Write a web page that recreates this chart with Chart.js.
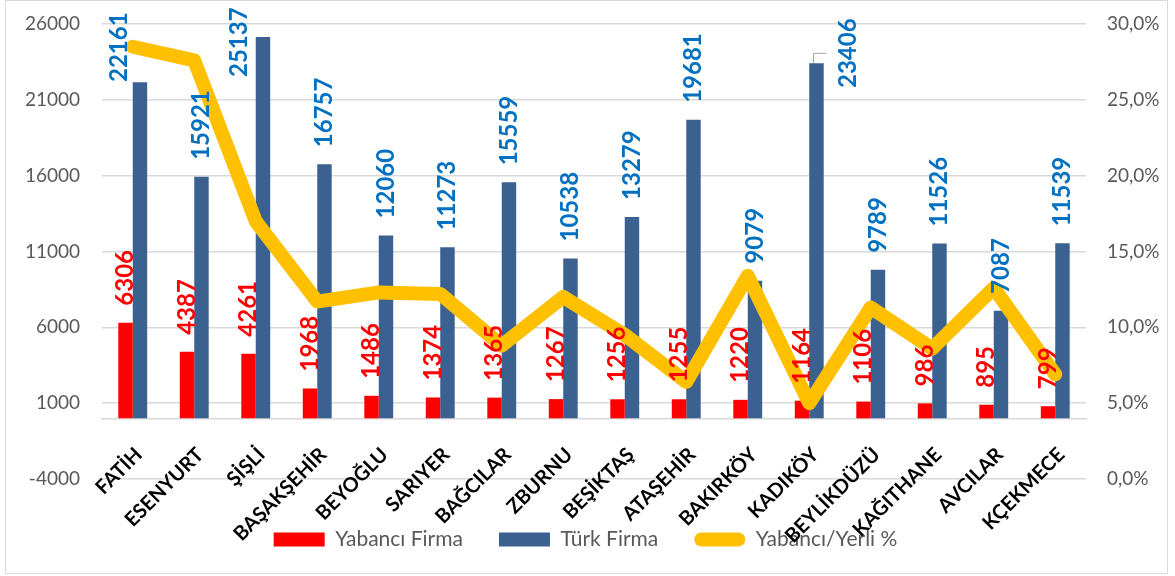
<!DOCTYPE html>
<html>
<head>
<meta charset="utf-8">
<script src="https://cdn.jsdelivr.net/npm/chart.js@4.4.0/dist/chart.umd.min.js"></script>
<style>
  body { margin: 0; background: #fff; }
</style>
</head>
<body>
<canvas id="grafico" width="1175" height="576"></canvas>
<script>
// ilçeler ve değerler
const ilceler = ['FATİH', 'ESENYURT', 'ŞİŞLİ', 'BAŞAKŞEHİR', 'BEYOĞLU', 'SARIYER', 'BAĞCILAR', 'ZBURNU',
  'BEŞİKTAŞ', 'ATAŞEHİR', 'BAKIRKÖY', 'KADIKÖY', 'BEYLİKDÜZÜ', 'KAĞITHANE', 'AVCILAR', 'KÇEKMECE'];
const yabanciFirma = [6306, 4387, 4261, 1968, 1486, 1374, 1365, 1267, 1256, 1255, 1220, 1164, 1106, 986, 895, 799];
const turkFirma = [22161, 15921, 25137, 16757, 12060, 11273, 15559, 10538, 13279, 19681, 9079, 23406, 9789, 11526, 7087, 11539];
// yüzde olarak
const yabanciYerli = [28.5, 27.6, 17.0, 11.7, 12.3, 12.2, 8.8, 12.0, 9.5, 6.4, 13.4, 5.0, 11.3, 8.6, 12.6, 6.9];
const solTikler = [-4000, 1000, 6000, 11000, 16000, 21000, 26000];
const sagTikler = [0, 5, 10, 15, 20, 25, 30];

const FUENTE = 'Lato, "Open Sans", sans-serif';
Chart.defaults.font.family = FUENTE;

// taşan etiketler için yer ayarı (Türk Firma)
const etiketAyar = { 0: { dx: -21, y: 82 }, 2: { dx: -24, y: 77 }, 11: { dx: 32, y: 88, kilavuz: true } };

const cerceve = {
  id: 'cerceve',
  beforeDraw(chart) {
    const ctx = chart.ctx;
    ctx.save();
    ctx.fillStyle = '#fff';
    ctx.fillRect(0, 0, chart.width, chart.height);
    ctx.strokeStyle = '#d9d9d9';
    ctx.lineWidth = 1;
    ctx.strokeRect(5.5, 0.5, 1162, 573);
    ctx.restore();
  },
  afterLayout(chart) {
    // lejantı biraz aşağı al
    chart.legend.top += 14;
    chart.legend.bottom += 14;
  }
};

// ilçe adları, 45 derece eğik, sıfır çizgisinin altında
const kategoriler = {
  id: 'kategoriler',
  afterDraw(chart) {
    const ctx = chart.ctx;
    const x = chart.scales.x;
    const y0 = chart.scales.y.getPixelForValue(0);
    ctx.save();
    ctx.font = 'bold 20px ' + FUENTE;
    ctx.fillStyle = '#000';
    ctx.textAlign = 'right';
    ctx.textBaseline = 'middle';
    chart.data.labels.forEach((lab, i) => {
      ctx.save();
      ctx.translate(x.getPixelForTick(i) + 6, y0 + 33);
      ctx.rotate(-Math.PI / 4);
      ctx.fillText(lab, 0, 0);
      ctx.restore();
    });
    ctx.restore();
  }
};

const etiketler = {
  id: 'etiketler',
  afterDatasetsDraw(chart) {
    const ctx = chart.ctx;
    ctx.save();
    ctx.font = 'bold 24px ' + FUENTE;
    ctx.textBaseline = 'middle';
    ctx.textAlign = 'left';
    [0, 1].forEach(d => {
      const meta = chart.getDatasetMeta(d);
      const valores = chart.data.datasets[d].data;
      meta.data.forEach((bar, i) => {
        let x = bar.x;
        let y = bar.y - 17;
        const a = d === 1 ? etiketAyar[i] : null;
        if (a) {
          x += a.dx;
          y = a.y;
          if (a.kilavuz) {
            ctx.strokeStyle = '#a6a6a6';
            ctx.lineWidth = 1;
            ctx.beginPath();
            ctx.moveTo(bar.x - 3, bar.y);
            ctx.lineTo(bar.x - 3, bar.y - 10);
            ctx.lineTo(bar.x + 10, bar.y - 10);
            ctx.stroke();
          }
        }
        ctx.fillStyle = d === 0 ? '#FF0000' : '#0070C0';
        ctx.save();
        ctx.translate(x, y);
        ctx.rotate(-Math.PI / 2);
        ctx.fillText(String(valores[i]), 0, 0);
        ctx.restore();
      });
    });
    ctx.restore();
  }
};

new Chart(document.getElementById('grafico'), {
  type: 'bar',
  data: {
    labels: ilceler,
    datasets: [{
      label: 'Yabancı Firma',
      data: yabanciFirma,
      backgroundColor: '#FF0000',
      yAxisID: 'y',
      categoryPercentage: 0.47,
      barPercentage: 1,
      order: 1
    }, {
      label: 'Türk Firma',
      data: turkFirma,
      backgroundColor: '#3A6190',
      yAxisID: 'y',
      categoryPercentage: 0.47,
      barPercentage: 1,
      order: 1
    }, {
      type: 'line',
      label: 'Yabancı/Yerli %',
      data: yabanciYerli,
      borderColor: '#FFC000',
      backgroundColor: '#FFC000',
      borderWidth: 14,
      borderCapStyle: 'round',
      borderJoinStyle: 'round',
      pointRadius: 0,
      tension: 0,
      fill: false,
      yAxisID: 'y1',
      order: 0
    }]
  },
  options: {
    responsive: false,
    animation: false,
    layout: { padding: { left: 6, right: 10, top: 24, bottom: 30 } },
    plugins: {
      tooltip: { enabled: false },
      legend: {
        position: 'bottom',
        labels: {
          font: { size: 21 },
          color: '#595959',
          boxWidth: 51,
          boxHeight: 14,
          padding: 36,
          useBorderRadius: true,
          generateLabels: chart => chart.data.datasets.map((ds, i) => ({
            text: ds.label,
            fillStyle: ds.backgroundColor,
            strokeStyle: ds.backgroundColor,
            lineWidth: 0,
            borderRadius: i === 2 ? 7 : 0,
            fontColor: '#595959',
            hidden: false,
            datasetIndex: i
          }))
        }
      }
    },
    scales: {
      x: {
        position: { y: 0 },
        grid: { display: false, drawTicks: false },
        border: { display: true, color: '#d9d9d9', width: 1.5 },
        ticks: { display: false }
      },
      y: {
        position: 'left',
        min: solTikler[0],
        max: solTikler[solTikler.length - 1],
        afterBuildTicks: s => { s.ticks = solTikler.map(v => ({ value: v })); },
        afterFit: s => { s.width = 96; },
        grid: { color: '#d9d9d9', lineWidth: 1.5, drawTicks: true, tickLength: 10, tickColor: 'rgba(0,0,0,0)' },
        border: { display: false },
        ticks: { padding: 12, color: '#595959', font: { size: 19 }, callback: v => String(v) }
      },
      y1: {
        position: 'right',
        min: sagTikler[0],
        max: sagTikler[sagTikler.length - 1],
        afterBuildTicks: s => { s.ticks = sagTikler.map(v => ({ value: v })); },
        afterFit: s => { s.width = 79; },
        grid: { display: false, drawTicks: true, tickLength: 10, tickColor: 'rgba(0,0,0,0)' },
        border: { display: false },
        ticks: {
          padding: 11,
          color: '#595959',
          font: { size: 19 },
          callback: v => v.toFixed(1).replace('.', ',') + '%'
        }
      }
    }
  },
  plugins: [cerceve, kategoriler, etiketler]
});
</script>
</body>
</html>
